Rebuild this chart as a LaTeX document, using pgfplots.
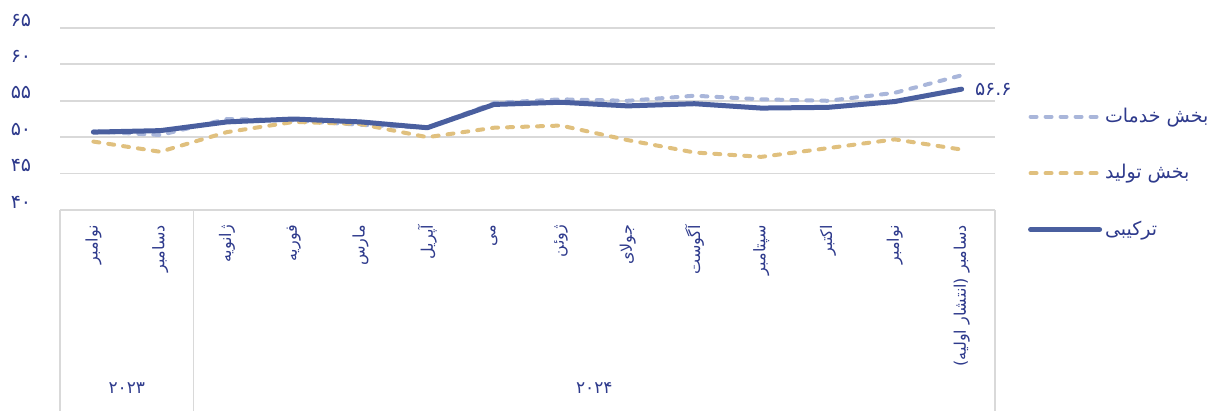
\documentclass[border=0pt]{standalone}
\usepackage{pgfplots}
\pgfplotsset{compat=1.18}
\usepackage{fontspec}
\setmainfont{DejaVu Sans}
\newfontfamily\fa[Script=Arabic]{DejaVu Sans}
\TeXXeTstate=1
\newcommand\R[1]{\beginR #1\endR}
\definecolor{txt}{HTML}{2E3A8C}
\definecolor{comp}{HTML}{4A5F9F}
\definecolor{serv}{HTML}{A9B6DA}
\definecolor{manu}{HTML}{E0C07E}
\definecolor{gridc}{HTML}{D9D9D9}
\begin{document}
\begin{tikzpicture}
\useasboundingbox (0,0) rectangle (614.5pt,205.5pt);
\begin{axis}[
  at={(30pt,100.5pt)}, anchor=south west,
  scale only axis, width=467.5pt, height=91pt,
  xmin=-0.5, xmax=13.5, ymin=40, ymax=65,
  clip=false,
  axis line style={draw=none},
  major tick length=0pt,
  ytick={40,45,50,55,60,65},
  yticklabels={۴۰,۴۵,۵۰,۵۵,۶۰,۶۵},
  yticklabel style={anchor=center, xshift=-19.5pt, yshift=4pt, font=\fa\fontsize{9.5}{11}\selectfont, text=txt},
  ymajorgrids, grid style={gridc, line width=0.9pt},
  xtick={0,...,13},
  xticklabels={{\R{نوامبر}},{\R{دسامبر}},{\R{ژانویه}},{\R{فوریه}},{\R{مارس}},{\R{آپریل}},{\R{می}},{\R{ژوئن}},{\R{جولای}},{\R{آگوست}},{\R{سپتامبر}},{\R{اکتبر}},{\R{نوامبر}},{\R{دسامبر (انتشار اولیه)}}},
  xticklabel style={rotate=90, anchor=east, xshift=-4pt, font=\fa\fontsize{8}{9}\selectfont, text=txt},
  legend style={draw=none, fill=none, at={(axis description cs:1.0285,0.601)}, anchor=north west,
    font=\fa\fontsize{9.5}{11}\selectfont, text=txt, row sep=16.5pt,
    nodes={inner sep=1.5pt}},
  legend cell align=left,
  legend image code/.code={\draw[#1] (0pt,0pt) -- (34.5pt,0pt);},
]
\addplot[serv, line width=2pt, dash pattern=on 3pt off 4.5pt, line cap=round] coordinates {
(0,50.8) (1,50.3) (2,52.5) (3,52.3) (4,51.7) (5,51.3) (6,54.7) (7,55.2) (8,55.0) (9,55.7) (10,55.2) (11,55.0) (12,56.1) (13,58.5)};
\addlegendentry{\R{بخش خدمات}}
\addplot[manu, line width=2pt, dash pattern=on 3pt off 4.5pt, line cap=round] coordinates {
(0,49.4) (1,48.0) (2,50.7) (3,52.1) (4,51.8) (5,50.0) (6,51.3) (7,51.6) (8,49.6) (9,47.9) (10,47.3) (11,48.5) (12,49.7) (13,48.3)};
\addlegendentry{\R{بخش تولید}}
\addplot[comp, line width=2.5pt, line cap=round, line join=round] coordinates {
(0,50.7) (1,50.9) (2,52.1) (3,52.5) (4,52.1) (5,51.3) (6,54.5) (7,54.8) (8,54.3) (9,54.6) (10,54.0) (11,54.1) (12,54.9) (13,56.6)};
\addlegendentry{\R{ترکیبی}}
\node[anchor=west, text=txt, font=\fa\fontsize{9.5}{11}\selectfont, inner sep=0pt] at (axis cs:13,56.6) {\hspace{6.5pt}۵۶.۶};
\draw[gridc, line width=0.9pt] (axis cs:-0.5,40) -- (axis cs:-0.5,0);
\draw[gridc, line width=0.9pt] (axis cs:1.5,40) -- (axis cs:1.5,0);
\draw[gridc, line width=0.9pt] (axis cs:13.5,40) -- (axis cs:13.5,0);
\node[text=txt, font=\fa\fontsize{8.5}{10}\selectfont] at (axis cs:0.5,15.6) {۲۰۲۳};
\node[text=txt, font=\fa\fontsize{8.5}{10}\selectfont] at (axis cs:7.5,15.6) {۲۰۲۴};
\end{axis}
\end{tikzpicture}
\end{document}
